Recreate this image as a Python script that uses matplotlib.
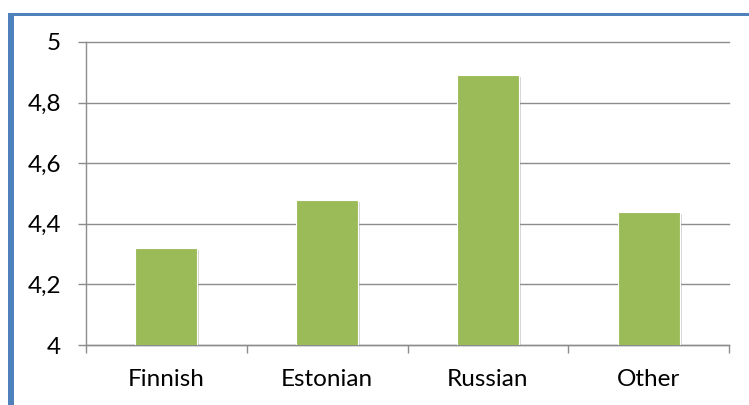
import matplotlib
matplotlib.use("Agg")
import matplotlib.pyplot as plt
from matplotlib.patches import Rectangle
import matplotlib.patheffects as pe

categories = ["Finnish", "Estonian", "Russian", "Other"]
values = [4.32, 4.48, 4.89, 4.44]
yticks = [4, 4.2, 4.4, 4.6, 4.8, 5]
ytick_labels = ["4", "4,2", "4,4", "4,6", "4,8", "5"]

W, H = 749, 405
plt.rcParams['font.family'] = ['Lato', 'DejaVu Sans']
fig = plt.figure(figsize=(W / 100, H / 100), dpi=100)

ax = fig.add_axes([86 / W, 1 - 345 / H, (729 - 86) / W, (345 - 42) / H])
x = list(range(len(categories)))
bars = ax.bar(x, values, width=0.385, color="#9BBB59", edgecolor="white",
              linewidth=0.8, zorder=3)
for b in bars:
    b.set_path_effects([pe.SimplePatchShadow(offset=(1.5, -1.5), shadow_rgbFace="#888888", alpha=0.35),
                        pe.Normal()])

ax.set_ylim(4, 5)
ax.set_xlim(-0.5, len(categories) - 0.5)
ax.set_yticks(yticks)
ax.set_yticklabels(ytick_labels)
ax.set_xticks(x)
ax.set_xticklabels(categories)
ax.yaxis.grid(True, color="#8c8c8c", linewidth=1.0, zorder=0)
for gl in ax.get_ygridlines():
    gl.set_clip_on(False)
ax.set_axisbelow(True)
for s in ["top", "right"]:
    ax.spines[s].set_visible(False)
for s in ["left", "bottom"]:
    ax.spines[s].set_color("#8c8c8c")
    ax.spines[s].set_linewidth(1.0)
ax.tick_params(axis="y", length=5.8, color="#8c8c8c", width=1.0, labelsize=17.5, pad=12, labelcolor="black")
ax.tick_params(axis="x", which="major", length=0, labelsize=17.5, pad=17, labelcolor="black")
ax.set_xticks([-0.5, 0.5, 1.5, 2.5, 3.5], minor=True)
ax.tick_params(axis="x", which="minor", length=5.8, color="#8c8c8c", width=1.0)
ax.set_ylim(4, 5)

# blue frame (left and top)
fig.add_artist(Rectangle((8 / W, 0), 5.5 / W, 1 - 13 / H, transform=fig.transFigure,
                         color="#4F81BD", linewidth=0))
fig.add_artist(Rectangle((8 / W, 1 - 16 / H), 1 - 8 / W, 3 / H, transform=fig.transFigure,
                         color="#4F81BD", linewidth=0))

fig.savefig("out.png", dpi=100)
